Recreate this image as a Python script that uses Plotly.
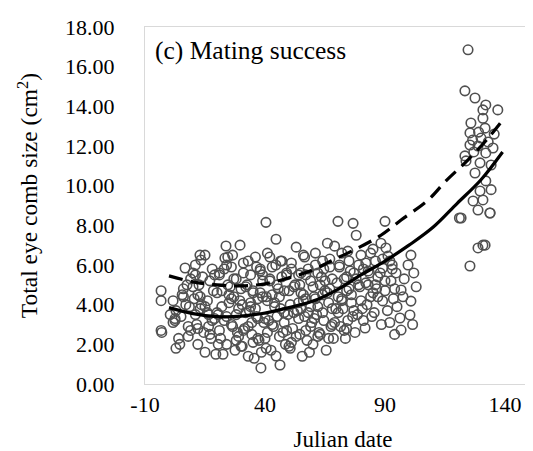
import plotly.graph_objects as go

# ---- scatter data (Julian date, total eye comb size) ----
x_b0 = [-3.3, -3.3, -3.3, -3.0, 2.9, 2.5, 2.9, 1.7, 1.7, 2.5, 6.7, 5.5, 7.5, 4.0, 8.5, 6.0, 4.5, 9.0, 0.5, 8.0]
y_b0 = [4.7, 4.2, 2.7, 2.6, 3.7, 3.2, 1.8, 4.2, 3.1, 3.3, 5.85, 4.5, 5.0, 2.3, 3.9, 4.4, 2.0, 5.3, 3.5, 2.9]

x_b1 = [12.9, 15.0, 13.3, 11.0, 12.5, 18.5, 10.5, 13.5, 16.0, 19.0, 11.5, 14.5, 17.5, 12.0, 15.0, 18.0, 10.0, 13.0, 16.5, 19.5, 12.0, 17.0, 11.0]
y_b1 = [6.5, 6.5, 6.25, 5.5, 5.0, 4.7, 4.3, 4.0, 3.6, 3.3, 3.0, 2.6, 2.3, 2.0, 1.6, 5.8, 4.9, 3.8, 2.9, 1.5, 4.5, 5.2, 6.0]

x_b2 = [23.75, 29.6, 23.3, 26.0, 21.0, 28.0, 24.5, 22.0, 27.0, 25.0, 29.0, 20.5, 23.0, 26.5, 28.5, 21.5, 24.0, 27.5, 22.5, 25.5, 29.5, 20.0, 26.0, 28.0, 21.0, 24.0]
y_b2 = [6.96, 7.0, 6.35, 5.9, 5.6, 5.3, 5.0, 4.7, 4.4, 4.1, 3.8, 3.5, 3.2, 2.9, 2.6, 2.3, 2.0, 1.7, 1.5, 4.9, 4.2, 3.6, 3.0, 2.2, 5.5, 6.0]

x_b3 = [33, 36, 31, 38, 34, 39, 32, 35, 37, 30.5, 33.5, 36.5, 39.5, 31.5, 34.5, 37.5, 30, 38.5, 35.5, 38.3, 32.5, 39, 34, 37, 31, 35, 38, 33]
y_b3 = [6.2, 6.4, 6.1, 5.8, 5.5, 5.2, 4.9, 4.6, 4.3, 4.0, 3.7, 3.4, 3.1, 2.8, 2.5, 2.2, 1.9, 1.6, 1.3, 0.81, 5.0, 4.4, 3.9, 3.3, 2.7, 2.1, 5.7, 1.4]

x_b4 = [40.4, 44.6, 41, 47, 43, 49, 42, 45, 48, 40.5, 44, 46.5, 49.5, 41.5, 43.5, 47.5, 40, 48.5, 44.6, 42.5, 46.25, 45.5, 41, 48, 43, 46, 49, 42]
y_b4 = [8.15, 7.3, 6.6, 6.2, 5.9, 5.6, 5.3, 5.0, 4.7, 4.4, 4.1, 3.8, 3.5, 3.2, 2.9, 2.6, 2.3, 2.0, 1.41, 1.7, 0.96, 4.8, 4.2, 3.6, 3.0, 2.4, 5.5, 6.4]

x_b5 = [53, 56, 51, 58, 54, 59, 52, 55, 57, 50.5, 53.5, 56.5, 59.5, 51.5, 54.5, 57.5, 50, 58.5, 55.5, 52.5, 56, 59, 54, 57, 51, 55]
y_b5 = [6.9, 6.5, 6.1, 5.8, 5.5, 5.2, 4.9, 4.6, 4.3, 4.0, 3.7, 3.4, 3.1, 2.8, 2.5, 2.2, 1.9, 1.6, 1.4, 5.0, 4.5, 3.9, 3.3, 2.7, 2.1, 5.6]

x_b6 = [66, 69, 61, 64, 67, 62, 68, 63, 65, 60.5, 66.5, 69.5, 61.5, 64.5, 67.5, 62.5, 68.5, 60, 65.5, 63.5, 67, 61, 64, 68, 62]
y_b6 = [7.1, 6.95, 6.6, 6.2, 5.9, 5.6, 5.3, 5.0, 4.7, 4.4, 4.1, 3.8, 3.5, 3.2, 2.9, 2.6, 2.3, 2.0, 1.7, 5.4, 4.8, 4.3, 3.6, 3.0, 2.4]

x_b7 = [70.4, 76.7, 78, 72, 75, 71, 77, 73, 79, 74, 70.5, 76, 72.5, 78.5, 74.5, 71.5, 77.5, 73.5, 75.5, 79.5, 72, 76.5, 74]
y_b7 = [8.2, 8.1, 7.5, 6.6, 6.2, 5.9, 5.6, 5.3, 5.0, 4.7, 4.4, 4.1, 3.8, 3.5, 3.2, 2.9, 2.6, 2.3, 5.7, 4.9, 4.2, 3.4, 2.8]

x_b8 = [88.3, 82, 84, 86, 81, 87, 83, 85, 89, 80.5, 84.5, 88.5, 81.7, 83.5, 86.5, 82.5, 85.5, 80]
y_b8 = [7.1, 6.1, 6.6, 6.2, 5.8, 5.4, 5.0, 4.6, 4.19, 3.8, 3.4, 3.0, 2.82, 5.6, 4.8, 4.0, 3.6, 6.5]

x_b9 = [90, 90.4, 91.25, 89, 90, 94.6, 96.7, 96.25, 96.7, 100.8, 99.6, 100.8, 100.4, 92.5, 93.5, 95, 92, 98, 97.5, 94, 102, 103, 101.5, 93]
y_b9 = [8.2, 6.86, 6.45, 5.85, 4.7, 5.6, 4.74, 3.33, 2.72, 6.5, 6.0, 4.18, 3.48, 5.2, 4.3, 3.9, 3.1, 5.3, 4.4, 2.5, 5.6, 4.9, 3.0, 6.0]

x_mid = [5, 7, 9, 11, 13, 15, 6, 8, 10, 12, 14,
         16, 18, 20, 22, 24, 17, 19, 21, 23, 25, 16.5, 20.5, 24.5,
         26, 28, 30, 32, 34, 27, 29, 31, 33, 35, 26.5, 30.5, 34.5,
         36, 38, 40, 42, 44, 37, 39, 41, 43, 45, 36.5, 40.5, 44.5,
         46, 48, 50, 52, 54, 47, 49, 51, 53, 55, 46.5, 50.5, 54.5,
         56, 58, 60, 62, 64, 57, 59, 61, 63, 65, 56.5, 60.5, 64.5,
         66, 68, 70, 72, 74, 67, 69, 71, 73, 75, 66.5, 70.5, 74.5,
         76, 78, 80, 82, 84, 77, 79, 81, 83, 85,
         86, 88, 90, 92, 94, 87, 89, 91, 93]
y_mid = [3.4, 4.0, 2.7, 3.5, 4.4, 3.9, 4.8, 2.4, 5.6, 2.8, 5.4,
         4.2, 3.2, 4.6, 3.9, 3.4, 2.5, 5.5, 2.7, 5.8, 4.5, 3.5, 2.0, 6.4,
         4.3, 3.5, 4.8, 3.6, 4.1, 5.3, 2.4, 5.6, 2.9, 4.7, 6.5, 1.9, 3.1,
         3.8, 4.6, 3.3, 5.2, 3.9, 2.3, 5.5, 2.6, 4.5, 3.4, 5.9, 1.8, 6.0,
         4.4, 3.1, 4.7, 3.6, 4.1, 5.4, 2.7, 5.8, 2.4, 3.8, 6.2, 1.8, 5.0,
         4.2, 3.6, 4.9, 3.9, 4.5, 5.5, 2.9, 6.0, 2.5, 5.2, 6.4, 3.3, 5.8,
         4.6, 3.8, 5.1, 4.3, 5.4, 6.3, 3.1, 6.0, 2.7, 4.8, 2.3, 3.6, 6.7,
         4.5, 5.3, 4.2, 5.1, 4.4, 3.7, 6.0, 3.2, 5.7, 6.8,
         5.0, 5.6, 5.2, 6.2, 4.8, 4.4, 6.3, 3.7, 5.8]

x_late = [124.6, 123.3, 127.5, 130.8, 132, 137, 125.8, 125.4, 131.7, 130.8, 130, 125.4, 128.75, 132, 135, 123.3,
          123.75, 129.6, 134.2, 127.5, 132, 134.2, 129.6, 126.7, 130.8, 128.75, 133.75, 121.7, 128.75, 130.8,
          125.4, 121, 133.75, 126.5, 129, 133, 127, 135.5, 131.7]
y_late = [16.85, 14.78, 14.42, 13.82, 14.07, 13.82, 13.16, 12.66, 12.9, 13.4, 12.4, 12.05, 12.0, 11.65, 11.9, 11.5,
          11.25, 11.15, 11.04, 10.64, 10.24, 9.8, 9.73, 9.23, 9.28, 8.77, 8.62, 8.37, 6.86, 7.0,
          5.95, 8.37, 8.62, 12.3, 12.7, 12.2, 11.7, 12.6, 7.0]

# ---- fitted curves ----
solid_x = [0, 10, 20, 30, 40, 50, 60, 70, 80, 90, 100, 110, 120, 130, 139]
solid_y = [3.85, 3.55, 3.4, 3.42, 3.58, 3.85, 4.18, 4.75, 5.5, 6.2, 7.0, 7.9, 9.1, 10.3, 11.7]

dash_x = [0, 10, 20, 30, 40, 50, 60, 67.5, 78.75, 88.3, 96.7, 108, 115.4, 124.6, 133, 139]
dash_y = [5.45, 5.15, 5.0, 4.95, 5.05, 5.35, 5.75, 6.2, 6.86, 7.5, 8.27, 9.28, 10.24, 11.3, 12.4, 13.3]

x_ticks = [-10, 40, 90, 140]
x_tick_text = ["-10", "40", "90", "140"]

x_all = x_b0 + x_b1 + x_b2 + x_b3 + x_b4 + x_b5 + x_b6 + x_b7 + x_b8 + x_b9 + x_mid + x_late
y_all = y_b0 + y_b1 + y_b2 + y_b3 + y_b4 + y_b5 + y_b6 + y_b7 + y_b8 + y_b9 + y_mid + y_late

FONT = "Liberation Serif, Times New Roman, serif"

fig = go.Figure()
fig.add_trace(go.Scatter(
    x=x_all, y=y_all, mode="markers",
    marker=dict(symbol="circle-open", size=9.5, color="#505050", line=dict(width=1.6)),
    hoverinfo="x+y", showlegend=False))
fig.add_trace(go.Scatter(
    x=dash_x, y=dash_y, mode="lines", line=dict(color="black", width=3.2, dash="14px,8px", shape="spline"),
    showlegend=False))
fig.add_trace(go.Scatter(
    x=solid_x, y=solid_y, mode="lines", line=dict(color="black", width=3.2, shape="spline"),
    showlegend=False))

fig.add_annotation(x=-6.5, y=16.8, xref="x", yref="y", text="(c) Mating success",
                   showarrow=False, xanchor="left", yanchor="middle",
                   font=dict(family=FONT, size=25.5, color="black"))

# y-axis title placed as rotated text to match the reference position
fig.add_annotation(x=-0.297, y=0.527, xref="paper", yref="paper",
                   text="Total eye comb size (cm<sup>2</sup>)", textangle=-90,
                   showarrow=False, xanchor="center", yanchor="middle",
                   font=dict(family=FONT, size=23.5, color="black"))

fig.update_layout(
    width=533, height=451,
    margin=dict(l=137, r=0, t=19, b=75),
    paper_bgcolor="white", plot_bgcolor="white",
    font=dict(family=FONT, size=22, color="black"),
    xaxis=dict(range=[-10, 155], tickvals=x_ticks, ticktext=x_tick_text,
               showgrid=False, zeroline=False,
               showline=True, linecolor="#d9d9d9", linewidth=1, mirror=True,
               ticks="", ticklabelstandoff=1, tickfont=dict(size=22),
               title=dict(text="Julian date", standoff=14, font=dict(size=23))),
    yaxis=dict(range=[0, 18], dtick=2, tickformat=".2f", showgrid=False, zeroline=False,
               showline=True, linecolor="#d9d9d9", linewidth=1,
               ticks="", ticklabelstandoff=25, tickfont=dict(size=22)),
)

fig.write_html("out.html")
